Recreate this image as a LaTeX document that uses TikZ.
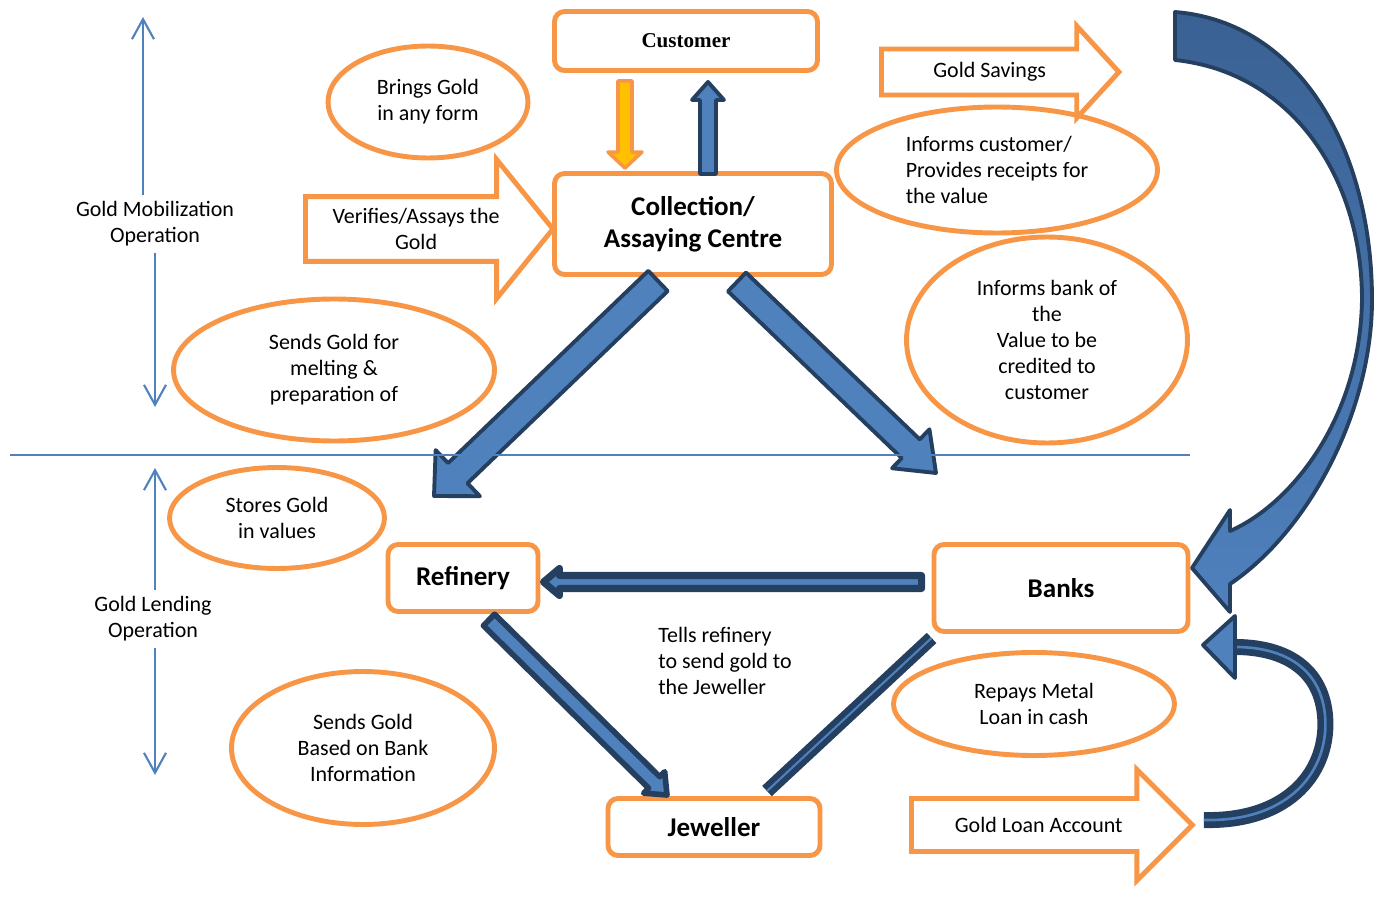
\documentclass[tikz,border=0pt]{standalone}
\usepackage{fontspec}
\setmainfont{Carlito}
\newfontfamily\custfamily{Liberation Serif}
\usepackage{tikz}
\usetikzlibrary{shapes, arrows.meta, calc}

\definecolor{boxorange}{HTML}{F79646}
\definecolor{fillblue}{HTML}{4F81BD}
\definecolor{deepblue}{HTML}{3A6193}
\definecolor{edgenavy}{HTML}{243F60}
\definecolor{goldfill}{HTML}{FFC000}

\newcommand{\smalltext}{\fontsize{12.5}{14.8}\selectfont}
\newcommand{\boxtext}{\fontsize{15.4}{18.2}\selectfont\bfseries}
\newcommand{\custtext}{\custfamily\fontsize{12}{14}\selectfont\bfseries}

% block arrow: [style]{tail}{tip}{shaft half width}{head half width}{head length}
\newcommand{\fatarrow}[6][]{%
  \path ($(#3)!#6!(#2)$) coordinate (fa-neck);
  \draw[#1] ($(#2)!#4!90:(#3)$) -- ($(fa-neck)!#4!90:(#3)$) -- ($(fa-neck)!#5!90:(#3)$)
    -- (#3) -- ($(fa-neck)!#5!-90:(#3)$) -- ($(fa-neck)!#4!-90:(#3)$) -- ($(#2)!#4!-90:(#3)$) -- cycle;
}

\begin{document}
\begin{tikzpicture}[
    x=0.02cm, y=-0.02cm,
    box/.style={draw=boxorange, line width=2.8pt, rounded corners=0.2cm, fill=white, align=center, inner sep=0pt},
    bubble/.style={draw=boxorange, line width=2.8pt, ellipse, inner sep=0pt, align=center, font=\smalltext},
    flowarrow/.style={draw=boxorange, line width=2.8pt, single arrow, fill=white, inner xsep=1pt, align=center, font=\smalltext, anchor=tail},
    bluearrow/.style={draw=edgenavy, fill=fillblue, line width=2.2pt, line join=round},
    thinarrow/.style={bluearrow, line width=4pt},
    bandline/.style={draw=edgenavy, double=fillblue, line width=3.4pt, double distance=1.2pt},
    scalearrow/.style={draw=fillblue, line width=1.2pt, -{Straight Barb[length=0.4cm,width=0.44cm]}},
    note/.style={font=\smalltext, align=center}
]
\useasboundingbox (0,0) rectangle (1377,902);

% ----------------------------------------------------
% Main boxes
% ----------------------------------------------------
\node[box, minimum width=5.26cm, minimum height=1.18cm, font=\custtext] (Customer) at (686, 41) {Customer};
\node[box, minimum width=5.54cm, minimum height=2.02cm, font=\boxtext] (Centre) at (693, 224) {Collection/\\Assaying Centre};
\node[box, minimum width=3.0cm, minimum height=1.34cm, font=\boxtext] (Refinery) at (463, 578) {Refinery};
\node[box, minimum width=5.08cm, minimum height=1.74cm, font=\boxtext] (Banks) at (1061, 588) {Banks};
\node[box, minimum width=4.24cm, minimum height=1.14cm, font=\boxtext] (Jeweller) at (714, 827) {Jeweller};

% ----------------------------------------------------
% Notes (ellipses)
% ----------------------------------------------------
\node[bubble, minimum width=4.0cm, minimum height=2.24cm] (Brings) at (428, 102) {Brings Gold\\in any form};
\node[bubble, minimum width=6.42cm, minimum height=2.52cm, align=left] (InformCust) at (997, 170) {Informs customer/\\Provides receipts for\\the value};
\node[bubble, minimum width=5.62cm, minimum height=4.12cm] (InformBank) at (1047, 340) {Informs bank of\\the\\Value to be\\credited to\\customer};
\node[bubble, minimum width=6.42cm, minimum height=2.84cm] (SendsMelt) at (334, 370) {Sends Gold for\\melting \&\\preparation of};
\node[bubble, minimum width=4.3cm, minimum height=2.02cm] (Stores) at (277, 518) {Stores Gold\\in values};
\node[bubble, minimum width=5.26cm, minimum height=3.06cm] (SendsBank) at (363, 748) {Sends Gold\\Based on Bank\\Information};
\node[bubble, minimum width=5.62cm, minimum height=2.06cm] (Repays) at (1034, 704) {Repays Metal\\Loan in cash};

% ----------------------------------------------------
% Block arrows with text
% ----------------------------------------------------
\node[flowarrow, inner ysep=0.15cm, minimum height=4.95cm, minimum width=2.78cm, single arrow head extend=0.7cm, single arrow tip angle=102] (Verifies) at (303, 229) {Verifies/Assays the\\Gold};
\node[flowarrow, inner ysep=0.2cm, minimum height=4.75cm, minimum width=1.84cm, single arrow head extend=0.44cm, single arrow tip angle=95] (Savings) at (879, 72) {Gold Savings};
\node[flowarrow, inner ysep=0.29cm, minimum height=5.62cm, minimum width=2.22cm, single arrow head extend=0.54cm, single arrow tip angle=90] (LoanAcc) at (909, 825) {Gold Loan Account};

% ----------------------------------------------------
% Operation labels
% ----------------------------------------------------
\node[note] (Mobil) at (155, 224) {Gold Mobilization\\Operation};
\node[note] (Lending) at (153, 619) {Gold Lending\\Operation};
\node[note, align=left] (Tells) at (725, 661) {Tells refinery\\to send gold to\\the Jeweller};

\coordinate (mobTop) at (143, 17);
\coordinate (mobBottom) at (155, 407);
\coordinate (lendTop) at (155, 468);
\coordinate (lendBottom) at (155, 775);
\draw[scalearrow] (Mobil.north -| mobTop) -- (mobTop);
\draw[scalearrow] (Mobil.south -| mobBottom) -- (mobBottom);
\draw[scalearrow] (Lending.north -| lendTop) -- (lendTop);
\draw[scalearrow] (Lending.south -| lendBottom) -- (lendBottom);

% ----------------------------------------------------
% Customer <-> Collection centre
% ----------------------------------------------------
\coordinate (giveTail) at ($(Customer.south)+(-61, 8)$);
\coordinate (giveTip) at ($(Centre.north)+(-68, -3)$);
\coordinate (receiptTail) at ($(Centre.north)+(15, 3)$);
\coordinate (receiptTip) at ($(Customer.south)+(22, 9)$);
\fatarrow[draw=boxorange, fill=goldfill, line width=2pt, line join=round]{giveTail}{giveTip}{0.14cm}{0.34cm}{0.32cm}
\fatarrow[bluearrow]{receiptTail}{receiptTip}{0.16cm}{0.32cm}{0.36cm}

% ----------------------------------------------------
% Collection centre down to both operations
% ----------------------------------------------------
\coordinate (meltTail) at ($(Centre.south)+(-35, 4)$);
\coordinate (meltDrop) at (434, 496);
\coordinate (creditTail) at ($(Centre.south)+(44, 5)$);
\coordinate (creditDrop) at (936, 473);
\fatarrow[bluearrow]{meltTail}{meltDrop}{0.28cm}{0.64cm}{0.66cm}
\fatarrow[bluearrow]{creditTail}{creditDrop}{0.26cm}{0.54cm}{0.7cm}

% ----------------------------------------------------
% Lending side
% ----------------------------------------------------
\coordinate (tellTail) at ($(Banks.west)+(-10, -6)$);
\coordinate (tellTip) at ($(Refinery.east)+(3, 4)$);
\fatarrow[thinarrow]{tellTail}{tellTip}{0.13cm}{0.27cm}{0.32cm}

\coordinate (shipTail) at ($(Refinery.south)+(26, 6)$);
\coordinate (shipTip) at ($(Jeweller.north)+(-47, -1)$);
\fatarrow[thinarrow, line width=3.2pt]{shipTail}{shipTip}{0.16cm}{0.3cm}{0.36cm}

\draw[bandline] ($(Banks.south west)+(0, 4)$) -- ($(Jeweller.north)+(53, -5)$);

% Gold loan account back to banks
\coordinate (loopNeck) at (1235, 647);
\draw[bandline, line width=3.8pt, double distance=1.5pt] ($(LoanAcc.tip)+(8, -5)$) .. controls (1290, 822) and (1330, 770) .. (1325, 715)
    .. controls (1320, 665) and (1280, 647) .. (loopNeck);
\draw[bluearrow] (1235, 616) -- (1203, 645) -- (1235, 678) -- cycle;

% Gold savings loop into banks
\draw[bluearrow, top color=deepblue, bottom color=fillblue] (1175, 12)
    .. controls (1300, 22) and (1372, 150) .. (1372, 300)
    .. controls (1372, 410) and (1310, 530) .. (1230, 584)
    -- (1230, 612) -- (1192, 568) -- (1230, 510) -- (1230, 531)
    .. controls (1290, 505) and (1360, 420) .. (1362, 300)
    .. controls (1362, 175) and (1290, 72) .. (1175, 60) -- cycle;

% ----------------------------------------------------
% Separator
% ----------------------------------------------------
\coordinate (sepWest) at (10, 455);
\coordinate (sepEast) at (1190, 455);
\draw[draw=fillblue, line width=1pt] (sepWest) -- (sepEast);

\end{tikzpicture}
\end{document}
